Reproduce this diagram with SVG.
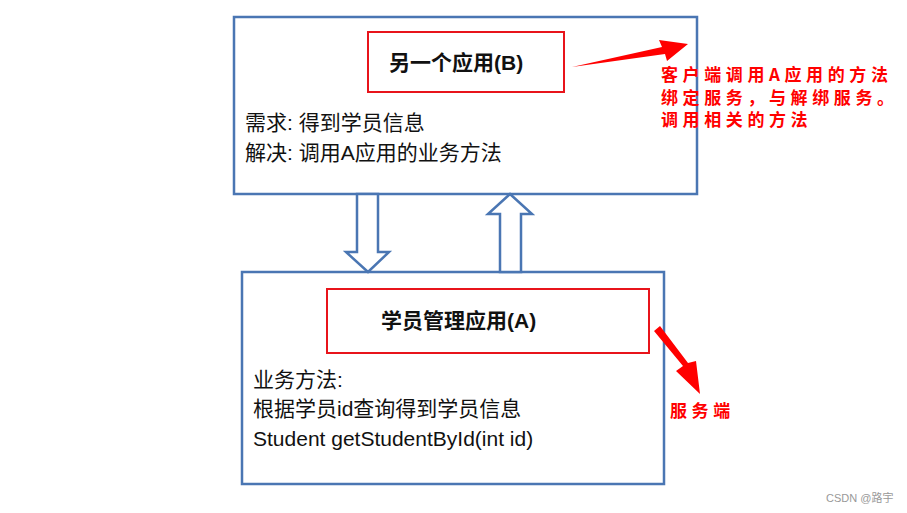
<svg xmlns="http://www.w3.org/2000/svg" width="907" height="513" viewBox="0 0 907 513">
<style>
.box{fill:#fff;stroke:#4a76b3;stroke-width:2.5}
.lab{fill:none;stroke:#e8141b;stroke-width:2}
.t{font-family:"Liberation Sans","Noto Sans CJK SC",sans-serif;font-size:21px;fill:#111}
.h{font-family:"Liberation Sans","Noto Sans CJK SC",sans-serif;font-size:21px;font-weight:bold;fill:#111}
.r{font-family:"Noto Sans CJK SC",sans-serif;font-size:17px;font-weight:bold;fill:#f00;letter-spacing:4.6px}
.ar{fill:#fff;stroke:#4a76b3;stroke-width:2.5;stroke-linejoin:miter}
</style>
<rect width="907" height="513" fill="#fff"/>
<g id="nodeB">
<rect class="box" x="234" y="17" width="463" height="177"/>
<rect class="lab" x="368" y="32" width="196" height="60"/>
<text class="h" x="389" y="70">另一个应用(B)</text>
<text class="t" x="245" y="130">需求: 得到学员信息</text>
<text class="t" x="245" y="160">解决: 调用A应用的业务方法</text>
</g>
<g id="nodeA">
<rect class="box" x="242" y="272" width="422" height="212"/>
<rect class="lab" x="327" y="289" width="322" height="64"/>
<text class="h" x="381" y="328">学员管理应用(A)</text>
<text class="t" x="253" y="387">业务方法:</text>
<text class="t" x="253" y="416">根据学员id查询得到学员信息</text>
<text class="t" x="253" y="446">Student getStudentById(int id)</text>
</g>
<g id="connectors">
<polygon class="ar" points="357,194 378,194 378,252 389,252 368,272 346,252 357,252"/>
<polygon class="ar" points="500,272 521,272 521,214 532,214 510,194 488,214 500,214"/>
<polygon fill="#f00" points="572,67 662,47 659,40 688,44 667,61 665,54"/>
<polygon fill="#f00" points="654,331 683,366 676,371 700,394 696,361 688,363 660,326"/>
</g>
<g id="notes">
<text class="r" x="661" y="81">客户端调用A应用的方法</text>
<text class="r" x="661" y="104">绑定服务，与解绑服务。</text>
<text class="r" x="661" y="126">调用相关的方法</text>
<text class="r" x="670" y="417">服务端</text>
<text x="826" y="502" style="font-family:'Liberation Sans','Noto Sans CJK SC',sans-serif;font-size:11px;fill:#999">CSDN @路宇</text>
</g>
</svg>
